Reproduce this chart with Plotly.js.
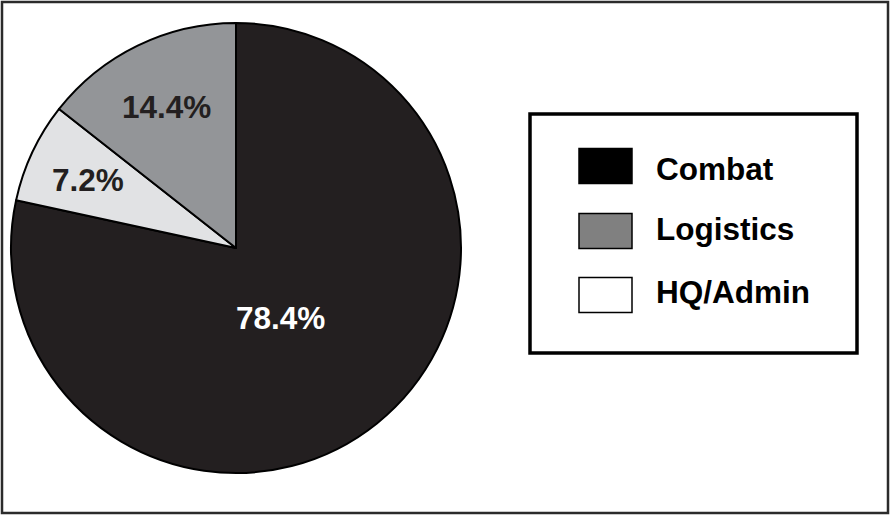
<!DOCTYPE html>
<html>
<head>
<meta charset="utf-8">
<script src="https://cdn.plot.ly/plotly-3.0.1.min.js"></script>
<style>html,body{margin:0;padding:0;background:#fff;}#chart{width:890px;height:515px;}</style>
</head>
<body>
<div id="chart"></div>
<script>
// Data
const categories = ['Combat', 'HQ/Admin', 'Logistics'];
const values = [78.4, 7.2, 14.4];
const sliceColors = ['#231f20', '#e1e2e4', '#939598'];
const labelColors = ['#ffffff', '#231f20', '#231f20'];
const legendOrder = ['Combat', 'Logistics', 'HQ/Admin'];
const legendColors = ['#000000', '#808080', '#ffffff'];

const W = 890, H = 515;
const px = x => x / W;
const py = y => 1 - y / H;
const FONT = 'Liberation Sans, Arial, Helvetica, sans-serif';

// label placement (pixel centres) for each slice label
const labelPos = {'Combat': [280, 318], 'HQ/Admin': [88, 180], 'Logistics': [166, 107]};
// legend rows: swatch centre and text centre
const legendRowY = [166, 231, 295];
const legendTextY = [169, 229, 292];

const annotations = [];
categories.forEach((c, i) => {
  annotations.push({
    xref: 'paper', yref: 'paper',
    x: px(labelPos[c][0]), y: py(labelPos[c][1]),
    xanchor: 'center', yanchor: 'middle', showarrow: false,
    text: values[i].toFixed(1) + '%',
    font: {family: FONT, size: 31.5, color: labelColors[i], weight: 'bold'}
  });
});

const shapes = [
  // outer frame
  {type: 'rect', xref: 'paper', yref: 'paper', x0: px(2), x1: px(888), y0: py(513), y1: py(2),
   line: {color: '#2b2b2b', width: 2.5}, fillcolor: 'rgba(0,0,0,0)', layer: 'above'},
  // legend box
  {type: 'rect', xref: 'paper', yref: 'paper', x0: px(530), x1: px(857), y0: py(353), y1: py(114),
   line: {color: '#000000', width: 3.5}, fillcolor: 'rgba(0,0,0,0)'}
];
legendOrder.forEach((name, k) => {
  const cy = legendRowY[k];
  shapes.push({type: 'rect', xref: 'paper', yref: 'paper',
    x0: px(579), x1: px(632), y0: py(cy + 17.5), y1: py(cy - 17.5),
    line: {color: '#000000', width: 1.5}, fillcolor: legendColors[k]});
  annotations.push({xref: 'paper', yref: 'paper', x: px(654), y: py(legendTextY[k]),
    xanchor: 'left', yanchor: 'middle', showarrow: false, text: name,
    font: {family: FONT, size: 31.5, color: '#000000', weight: 'bold'}});
});

const trace = {
  type: 'pie',
  labels: categories,
  values: values,
  sort: false,
  direction: 'clockwise',
  rotation: 0,
  textinfo: 'none',
  textposition: 'none',
  hoverinfo: 'none',
  showlegend: false,
  marker: {colors: sliceColors, line: {color: '#000000', width: 2}},
  domain: {x: [px(11), px(461)], y: [py(473), py(23)]}
};

const layout = {
  width: W, height: H,
  margin: {l: 0, r: 0, t: 0, b: 0},
  paper_bgcolor: '#ffffff',
  plot_bgcolor: '#ffffff',
  showlegend: false,
  shapes: shapes,
  annotations: annotations,
  font: {family: FONT}
};

Plotly.newPlot('chart', [trace], layout, {displayModeBar: false, staticPlot: true});
</script>
</body>
</html>
